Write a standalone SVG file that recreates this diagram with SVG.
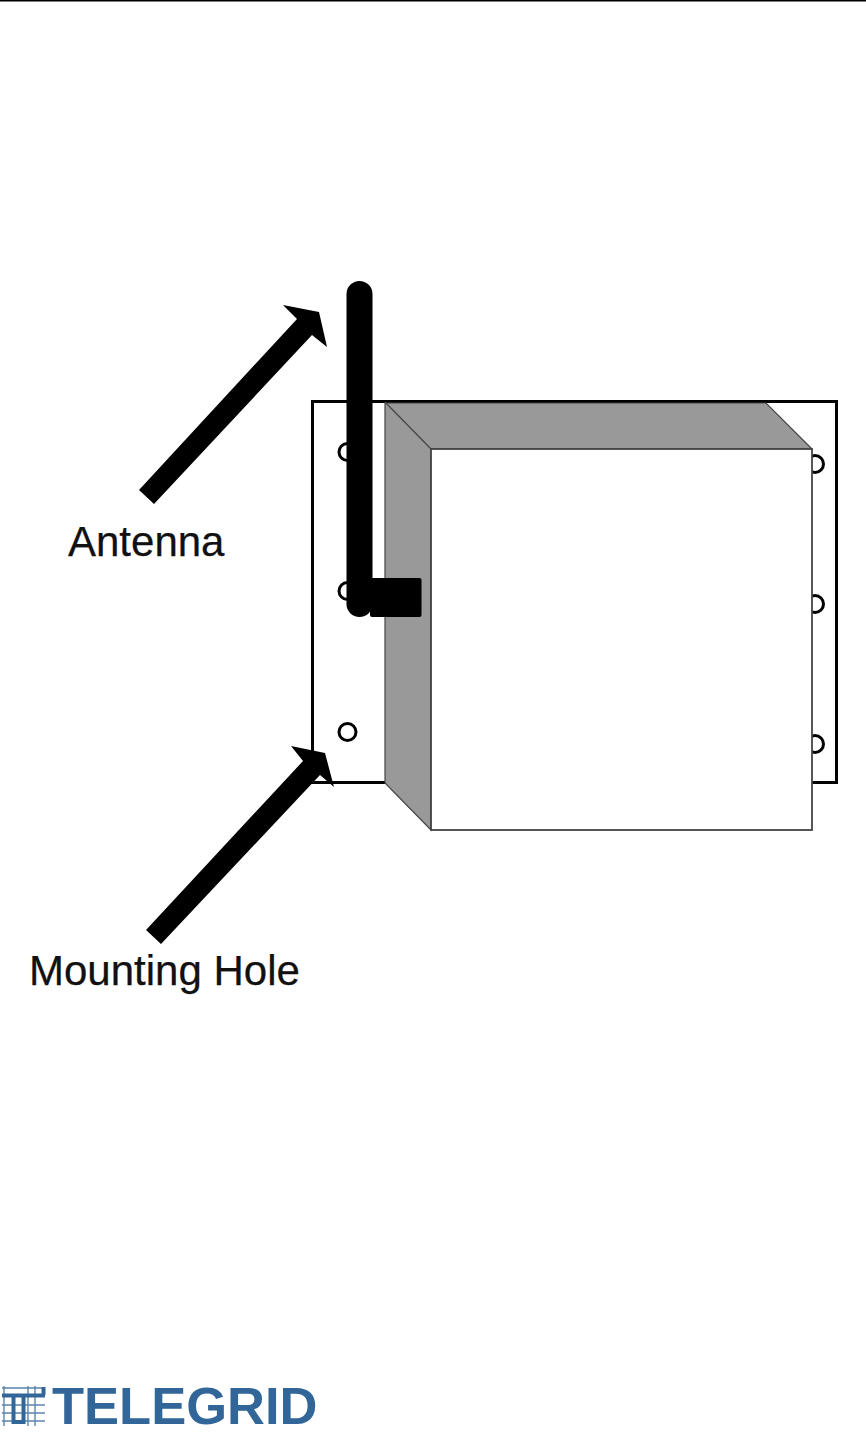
<svg xmlns="http://www.w3.org/2000/svg" width="866" height="1442" viewBox="0 0 866 1442">
<style>
.lbl{font-family:"Liberation Sans",Arial,sans-serif;font-size:42px;fill:#111;stroke:#111;stroke-width:.25}
.hole{fill:#fff;stroke:#000;stroke-width:3}
.grid{stroke:#336699;fill:none}
</style>
<defs>
<filter id="soft" x="-5%" y="-10%" width="110%" height="120%"><feGaussianBlur stdDeviation="0.5"/></filter>
</defs>
<rect width="866" height="1442" fill="#fff"/>
<rect id="top-rule" x="0" y="0" width="866" height="1.5" fill="#000"/>
<g id="plate">
<rect x="312.500" y="401.500" width="524" height="381" fill="#fff" stroke="#000" stroke-width="3"/>
<circle class="hole" cx="347.500" cy="452" r="8.500"/>
<circle class="hole" cx="347.500" cy="591" r="8.500"/>
<circle class="hole" cx="347.500" cy="732" r="8.500"/>
<circle class="hole" cx="815" cy="464" r="8.500"/>
<circle class="hole" cx="815" cy="604" r="8.500"/>
<circle class="hole" cx="815" cy="744" r="8.500"/>
</g>
<g id="enclosure">
<polygon points="385,403 766,403 812,449 431,449 431,830 385,783" fill="#999" stroke="#444" stroke-width="1.200"/>
<line x1="385" y1="402" x2="431" y2="449" stroke="#444" stroke-width="1.200"/>
<rect x="431" y="449" width="381" height="381" fill="#fff" stroke="#444" stroke-width="1.800"/>
</g>
<g id="antenna">
<line x1="359.500" y1="294" x2="359.500" y2="604" stroke="#000" stroke-width="26" stroke-linecap="round"/>
<rect x="370" y="578" width="51.500" height="39" rx="2" fill="#000"/>
</g>
<g id="connectors">
<polygon points="139,490 297,319 283,305 319,312 327,347 312,335 154,504" fill="#000"/>
<polygon points="146,930 303,761 291,746 325,753 334,787 320,775 161,944" fill="#000"/>
</g>
<g id="labels">
<text class="lbl" x="68" y="556">Antenna</text>
<text class="lbl" x="29" y="985">Mounting Hole</text>
</g>
<g id="logo" filter="url(#soft)">
<g class="grid" stroke-width="1.400" opacity=".8">
<path d="M2 1388H45M2 1405H45M2 1413H45M2 1421H45"/>
<path d="M4 1386V1426M28 1386V1426M35 1386V1426"/>
</g>
<path class="grid" stroke-width="4" d="M2 1395.500H45M43.500 1387V1395M13.500 1395V1422H23.500V1395"/>
<text x="52" y="1424" font-family="'Liberation Sans',Arial,sans-serif" font-weight="700" font-size="52.500" fill="#336699">TELEGRID</text>
</g>
</svg>
